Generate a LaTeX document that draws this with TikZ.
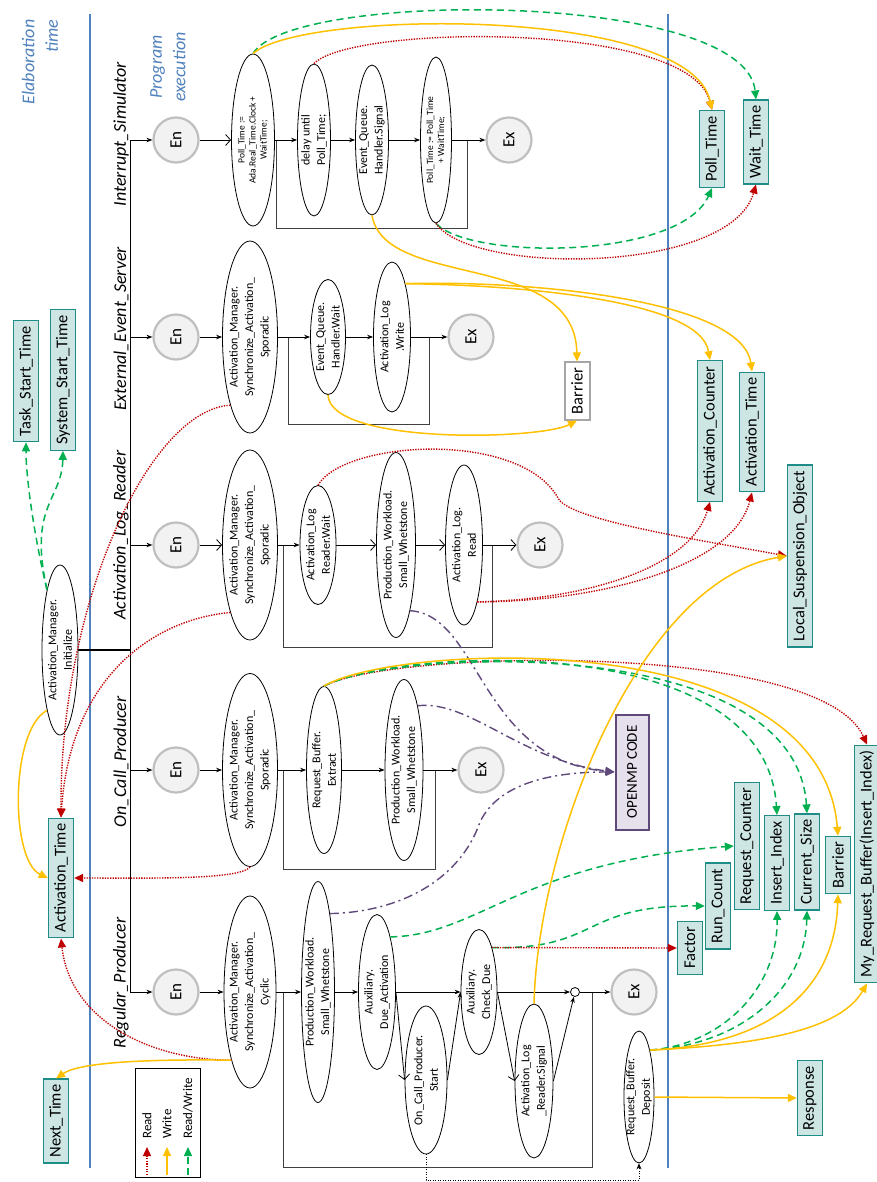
\documentclass[tikz,border=0pt]{standalone}
\usepackage{fontspec}
\setmainfont{Carlito}
\usetikzlibrary{arrows.meta,shapes.geometric}
\begin{document}
\begin{tikzpicture}[x=1pt,y=-1pt,
  every node/.append style={rotate=90},
  act/.style={ellipse,draw=black,line width=0.8pt,fill=white,inner xsep=-4pt,
    inner ysep=-3pt,align=center,font=\fontsize{12}{15.5}\selectfont},
  actsm/.style={act,font=\fontsize{9.5}{11}\selectfont},
  term/.style={circle,draw=termline,fill=termfill,line width=2.2pt,
    minimum size=45pt,inner sep=0pt,font=\fontsize{17}{17}\selectfont},
  var/.style={draw=varline,fill=varfill,line width=1.3pt,minimum height=25pt,
    inner xsep=5.5pt,inner ysep=0pt,font=\fontsize{16.5}{16.5}\selectfont},
  barrier/.style={var,draw=barline,fill=white,line width=2pt},
  ompbox/.style={draw=ompline,fill=ompfill,line width=2pt,minimum height=33pt,
    minimum width=115pt,font=\fontsize{15}{15}\selectfont},
  lane/.style={font=\fontsize{18}{18}\selectfont\itshape},
  phase/.style={text=laneblue,font=\fontsize{18}{23.5}\selectfont\itshape},
  flow/.style={draw=black,line width=0.8pt,-{Stealth[length=6pt,width=4.5pt]}},
  flowv/.style={draw=black,line width=0.8pt,-{Straight Barb[length=5pt,width=11pt]}},
  loopln/.style={draw=loopgray,line width=1pt},
  rd/.style={draw=rdcol,line width=1.4pt,dash pattern=on 1.3pt off 1.3pt,
    -{Triangle[length=9pt,width=8pt]}},
  wr/.style={draw=wrcol,line width=1.5pt,-{Triangle[length=9pt,width=8pt]}},
  rw/.style={draw=rwcol,line width=1.5pt,dash pattern=on 7pt off 4.5pt,
    -{Triangle[length=9pt,width=8pt]}},
  omplink/.style={draw=ompline,line width=1.4pt,
    dash pattern=on 9pt off 4pt on 2pt off 4pt,-{Triangle[length=9pt,width=8pt]}},
  lgtext/.style={anchor=west,inner sep=0pt,font=\fontsize{13}{13}\selectfont}]
  \definecolor{laneblue}{HTML}{4F81BD}
  \definecolor{termline}{HTML}{BFBFBF}
  \definecolor{termfill}{HTML}{F2F2F2}
  \definecolor{varline}{HTML}{1E8C87}
  \definecolor{varfill}{HTML}{CDE6E4}
  \definecolor{barline}{HTML}{A6A6A6}
  \definecolor{ompline}{HTML}{5F497A}
  \definecolor{ompfill}{HTML}{E6E0EC}
  \definecolor{loopgray}{HTML}{404040}
  \definecolor{rdcol}{HTML}{C00000}
  \definecolor{wrcol}{HTML}{FFC000}
  \definecolor{rwcol}{HTML}{00B050}
  \useasboundingbox (0,0) rectangle (877,1182);

  \draw[laneblue,line width=2.2pt] (90,14) -- (90,1168);
  \draw[laneblue,line width=2.2pt] (668,14) -- (668,1168);
  \node[phase,align=right] (elab) at (40,62) {Elaboration\\time};
  \node[phase,align=center] (prog) at (168,67) {Program\\execution};

  \node[lane] (lbIS) at (121,134) {Interrupt\_Simulator};
  \node[lane] (lbEE) at (121,329) {External\_Event\_Server};
  \node[lane] (lbAL) at (121,535) {Activation\_Log\_Reader};
  \node[lane] (lbOC) at (121,762) {On\_Call\_Producer};
  \node[lane] (lbRP) at (121,983) {Regular\_Producer};

  \node[term] (enIS) at (176,140) {En};
  \node[actsm,minimum width=172pt,minimum height=43pt] (isA) at (253,140) {Poll\_Time :=\\Ada.Real\_Time.Clock +\\WaitTime;};
  \node[act,minimum width=152pt,minimum height=33pt] (isB) at (314,140) {delay until\\Poll\_Time;};
  \node[act,minimum width=150pt,minimum height=33pt] (isC) at (372,140) {Event\_Queue.\\Handler.Signal};
  \node[actsm,minimum width=166pt,minimum height=31pt] (isD) at (436,140) {Poll\_Time := Poll\_Time\\+ WaitTime;};
  \node[term] (exIS) at (509,140) {Ex};

  \node[term] (enEE) at (176,337) {En};
  \node[act,minimum width=192pt,minimum height=55pt] (eeA) at (250,337) {Activation\_Manager.\\Synchronize\_Activation\_\\Sporadic};
  \node[act,minimum width=115pt,minimum height=35pt] (eeB) at (328,337) {Event\_Queue.\\Handler.Wait};
  \node[act,minimum width=150pt,minimum height=37pt] (eeC) at (392,337) {Activation\_Log\\.Write};
  \node[term] (exEE) at (471,337) {Ex};

  \node[term] (enAL) at (176,545) {En};
  \node[act,minimum width=190pt,minimum height=55pt] (alA) at (250,545) {Activation\_Manager.\\Synchronize\_Activation\_\\Sporadic};
  \node[act,minimum width=119pt,minimum height=36pt] (alB) at (318,545) {Activation\_Log\\Reader.Wait};
  \node[act,minimum width=185pt,minimum height=39pt] (alC) at (396,545) {Production\_Workload.\\Small\_Whetstone};
  \node[act,minimum width=160pt,minimum height=37pt] (alD) at (464,545) {Activation\_Log.\\Read};
  \node[term] (exAL) at (540,545) {Ex};

  \node[term] (enOC) at (176,770) {En};
  \node[act,minimum width=193pt,minimum height=55pt] (ocA) at (250,770) {Activation\_Manager.\\Synchronize\_Activation\_\\Sporadic};
  \node[act,minimum width=167pt,minimum height=35pt] (ocB) at (324,770) {Request\_Buffer.\\Extract};
  \node[act,minimum width=181pt,minimum height=38pt] (ocC) at (404,770) {Production\_Workload.\\Small\_Whetstone};
  \node[term] (exOC) at (481,770) {Ex};

  \node[term] (enRP) at (176,992) {En};
  \node[act,minimum width=192pt,minimum height=52pt] (rpA) at (250,992) {Activation\_Manager.\\Synchronize\_Activation\_\\Cyclic};
  \node[act,minimum width=221pt,minimum height=33pt] (rpB) at (318,992) {Production\_Workload.\\Small\_Whetstone};
  \node[act,minimum width=155pt,minimum height=37pt] (rpC) at (377,992) {Auxiliary.\\Due\_Activation};
  \node[act,minimum width=148pt,minimum height=42pt] (rpD) at (426,1080) {On\_Call\_Producer.\\Start};
  \node[act,minimum width=125pt,minimum height=36pt] (rpE) at (479,992) {Auxiliary.\\Check\_Due};
  \node[act,minimum width=154pt,minimum height=38pt] (rpF) at (534,1081) {Activation\_Log\\\_Reader.Signal};
  \node[circle,draw,fill=white,line width=0.8pt,minimum size=9pt,inner sep=0pt] (rpJ) at (575,992) {};
  \node[term] (exRP) at (634,992) {Ex};
  \node[act,minimum width=132pt,minimum height=30pt] (rpG) at (639,1097) {Request\_Buffer.\\Deposit};

  \node[var] (vTST) at (26,381) {Task\_Start\_Time};
  \node[var] (vSST) at (63,380) {System\_Start\_Time};
  \node[act,minimum width=170pt,minimum height=36pt] (amInit) at (60,650) {Activation\_Manager.\\Initialize};
  \node[var] (vATl) at (61,878) {Activation\_Time};
  \node[var] (vNT) at (56,1121) {Next\_Time};
  \node[var] (vPT) at (712,149) {Poll\_Time};
  \node[var] (vWT) at (756,142) {Wait\_Time};
  \node[barrier] (barA) at (577,391) {Barrier};
  \node[var] (vAC) at (710,431) {Activation\_Counter};
  \node[var] (vATr) at (752,432) {Activation\_Time};
  \node[var] (vLSO) at (800,556) {Local\_Suspension\_Object};
  \node[ompbox] (omp) at (632,772) {OPENMP CODE};
  \node[var] (vRC) at (747,846) {Request\_Counter};
  \node[var] (vII) at (777,863) {Insert\_Index};
  \node[var] (vCS) at (807,862) {Current\_Size};
  \node[var] (barB) at (838,865) {Barrier};
  \node[var] (vMRB) at (867,864) {My\_Request\_Buffer(Insert\_Index)};
  \node[var] (vRunC) at (718,906) {Run\_Count};
  \node[var] (vFac) at (690,948) {Factor};
  \node[var] (vResp) at (810,1098) {Response};

  \coordinate (bus) at (130,140);
  \coordinate (busend) at (130,992);
  \draw[line width=1pt] (bus) -- (busend);
  \draw[line width=2pt] (amInit.south) -- (amInit.south -| bus);
  \foreach \tsk in {IS,EE,AL,OC,RP}{\draw[flow] (en\tsk -| bus) -- (en\tsk);}

  \coordinate (isL) at (276,140); \coordinate (isR) at (467,229);
  \coordinate (eeL) at (288,337); \coordinate (eeR) at (429,424);
  \coordinate (alL) at (283,545); \coordinate (alR) at (492,647);
  \coordinate (ocL) at (283,770); \coordinate (ocR) at (435,869);
  \coordinate (rpL) at (283,992); \coordinate (rpR) at (592,1167);
  \foreach \tsk in {is,ee,al,oc,rp}{\draw[loopln] (\tsk L) |- (\tsk R) -- (\tsk R |- \tsk L);}

  \draw[flowv] (enIS) -- (isA);
  \draw[flow] (isA) -- (isB);
  \draw[flow] (isB) -- (isC);
  \draw[flow] (isC) -- (isD);
  \draw[flow] (isD) -- (exIS);
  \draw[flow] (enEE) -- (eeA);
  \draw[flow] (eeA) -- (eeB);
  \draw[flow] (eeB) -- (eeC);
  \draw[flow] (eeC) -- (exEE);
  \draw[flowv] (enAL) -- (alA);
  \draw[flow] (alA) -- (alB);
  \draw[flowv] (alB) -- (alC);
  \draw[flowv] (alC) -- (alD);
  \draw[flowv] (alD) -- (exAL);
  \draw[flow] (enOC) -- (ocA);
  \draw[flow] (ocA) -- (ocB);
  \draw[flow] (ocB) -- (ocC);
  \draw[flow] (ocC) -- (exOC);
  \draw[flow] (enRP) -- (rpA);
  \draw[flow] (rpA) -- (rpB);
  \draw[flow] (rpB) -- (rpC);
  \draw[flow] (rpC) -- (rpE);
  \draw[flowv] (rpC.south) -- (rpD.north);
  \draw[flow] (rpD.south) -- (rpE.north);
  \draw[flow] (rpE) -- (rpJ);
  \draw[flowv] (rpE.south) -- (rpF.north);
  \draw[flow] (rpF.south) -- (rpJ);
  \draw[flow] (rpJ) -- (exRP);
  \draw[black,line width=0.9pt,dash pattern=on 1pt off 1.5pt,-{Stealth[length=6pt,width=5pt]}] (rpD.west) -- ++(0,26) -| (rpG.west);

  \draw[rw] (isA.east) .. controls (290,-10) and (745,-10) .. (vWT.east);
  \draw[rd] (isB.east) .. controls (350,25) and (690,20) .. (vPT.east);
  \draw[wr] (isA.east) .. controls (300,10) and (690,5) .. (vPT.east);
  \draw[rw] (isD.west) .. controls (470,260) and (680,260) .. (vPT.west);
  \draw[rd] (isD.west) .. controls (470,275) and (730,275) .. (vWT.west);
  \draw[wr] (isC.west) .. controls (385,290) and (575,250) .. (barA.east);

  \draw[wr] (eeC.south east) .. controls (520,285) and (700,300) .. (vAC.east);
  \draw[wr] (eeC.south east) .. controls (530,280) and (742,300) .. (vATr.east);
  \draw[wr] (eeB.west) .. controls (330,445) and (540,440) .. (barA.west);

  \draw[rd] (alB.east) .. controls (345,440) and (520,430) .. (558,498) .. controls (568,520) and (700,540) .. (vLSO.north);
  \draw[rd] (alD.south west) .. controls (580,600) and (690,570) .. (vAC.west);
  \draw[rd] (alD.south west) .. controls (590,602) and (732,570) .. (vATr.west);
  \draw[omplink] (alC.south west) .. controls (480,615) and (480,760) .. (omp.north);

  \draw[rd] (ocB.east) .. controls (390,650) and (820,640) .. (vMRB.east);
  \draw[rw] (ocB.east) .. controls (390,650) and (765,625) .. (vII.east);
  \draw[rw] (ocB.east) .. controls (390,650) and (795,630) .. (vCS.east);
  \draw[wr] (ocB.east) .. controls (390,645) and (820,620) .. (barB.east);
  \draw[omplink] (ocC.south east) .. controls (470,700) and (520,760) .. (omp.north);

  \draw[omplink] (rpB.south east) .. controls (400,912) and (460,880) .. (480,822) .. controls (500,780) and (560,772) .. (omp.north);
  \draw[rw] (rpC.south east) .. controls (480,935) and (520,862) .. (vRC.north);
  \draw[rw] (rpE.south east) .. controls (600,950) and (580,905) .. (vRunC.north);
  \draw[rd] (rpE.south east) -- (vFac.north);
  \draw[wr] (rpF.east) .. controls (538,840) and (640,580) .. (vLSO.north);
  \draw[rw] (rpG.south east) .. controls (720,1045) and (778,990) .. (vII.west);
  \draw[rw] (rpG.south east) .. controls (740,1045) and (805,990) .. (vCS.west);
  \draw[wr] (rpG.south east) .. controls (770,1045) and (835,990) .. (barB.west);
  \draw[wr] (rpG.south east) .. controls (760,1045) and (840,1030) .. (vMRB.west);
  \draw[wr] (rpG.south) -- (vResp.north);

  \draw[rw] (amInit.north east) .. controls (35,540) and (26,480) .. (vTST.west);
  \draw[rw] (amInit.north east) .. controls (28,505) and (62,500) .. (vSST.west);
  \draw[wr] (amInit.north west) .. controls (10,730) and (10,860) .. (vATl.north);
  \draw[rd] (eeA.north west) .. controls (150,410) and (60,600) .. (vATl.east);
  \draw[rd] (alA.north west) .. controls (150,620) and (70,680) .. (vATl.east);
  \draw[rd] (ocA.west) .. controls (240,880) and (150,878) .. (vATl.south);
  \draw[rd] (rpA.north west) .. controls (150,1060) and (70,1020) .. (vATl.west);
  \draw[wr] (rpA.north west) .. controls (150,1059) and (80,1062) .. (vNT.east);

  \draw[line width=1pt] (135,1068) rectangle (200,1177);
  \node[lgtext] (lgR) at (147,1139) {Read};
  \node[lgtext] (lgW) at (167,1139) {Write};
  \node[lgtext] (lgRW) at (188,1139) {Read/Write};
  \draw[rd] ([yshift=-36pt]lgR.west) -- ([yshift=-8pt]lgR.west);
  \draw[wr] ([yshift=-36pt]lgW.west) -- ([yshift=-8pt]lgW.west);
  \draw[rw] ([yshift=-36pt]lgRW.west) -- ([yshift=-8pt]lgRW.west);
\end{tikzpicture}
\end{document}
